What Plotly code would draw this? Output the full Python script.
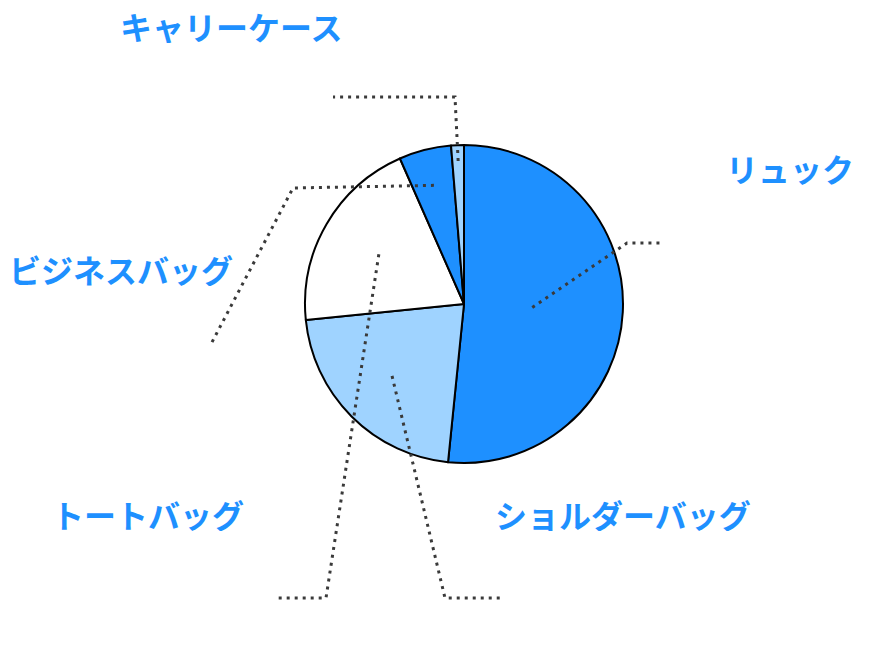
import math
import plotly.graph_objects as go

# data (share in %)
labels = ["リュック", "ショルダーバッグ", "トートバッグ", "ビジネスバッグ", "キャリーケース"]
values = [51.6, 21.8, 20.0, 5.3, 1.3]
colors = ["#1e90ff", "#9fd3ff", "#ffffff", "#1e90ff", "#9fd3ff"]

W, H = 892, 646
OFF = 8  # body margin of the html page
cx, cy, R = 464, 304, 159

# label layout (screen pixels): text centre, elbow, outer end, anchor radius fraction
label_pos = [(790, 168), (623, 514), (148, 514), (121, 269), (231, 26)]
elbows = [(627, 243), (445, 598), (326, 598), (293, 188), (455, 97)]
ends = [(663, 243), (503, 598), (275, 598), (210, 346), (333, 97)]
radius_frac = [0.43, 0.64, 0.62, 0.77, 0.9]


def px(x, y):
    return (x - OFF) / W, 1 - (y - OFF) / H


x0, y1 = px(cx - R, cy - R)
x1, y0 = px(cx + R, cy + R)

fig = go.Figure(go.Pie(
    labels=labels,
    values=values,
    sort=False,
    direction="clockwise",
    rotation=0,
    textinfo="none",
    hoverinfo="label+percent",
    marker=dict(colors=colors, line=dict(color="#000000", width=2)),
    domain=dict(x=[x0, x1], y=[y0, y1]),
))

# leader lines start inside each slice, at its mid angle
total = sum(values)
start = 0
shapes = []
annotations = []
for i, v in enumerate(values):
    mid = (start + v / 2) / total * 2 * math.pi
    start += v
    r = radius_frac[i] * R
    ax, ay = cx + r * math.sin(mid), cy - r * math.cos(mid)
    pts = [px(ax, ay), px(*elbows[i]), px(*ends[i])]
    path = "M {} {} L {} {} L {} {}".format(pts[0][0], pts[0][1], pts[1][0], pts[1][1], pts[2][0], pts[2][1])
    shapes.append(dict(type="path", path=path, xref="paper", yref="paper",
                       line=dict(color="#3a3a3a", width=3, dash="3px,5px")))
    tx, ty = px(*label_pos[i])
    annotations.append(dict(x=tx, y=ty, xref="paper", yref="paper", text="<b>" + labels[i] + "</b>",
                            showarrow=False, xanchor="center", yanchor="middle", borderpad=0, height=34,
                            font=dict(family="Noto Sans CJK JP", size=32, color="#1e90ff")))

fig.update_layout(
    width=W, height=H,
    margin=dict(l=0, r=0, t=0, b=0),
    paper_bgcolor="white",
    plot_bgcolor="white",
    showlegend=False,
    shapes=shapes,
    annotations=annotations,
)

fig.write_html("out.html")
